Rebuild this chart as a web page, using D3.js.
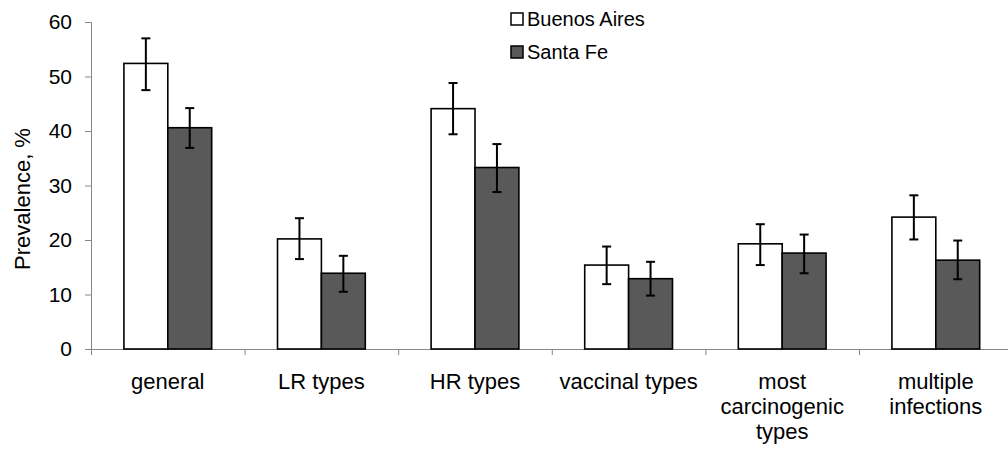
<!DOCTYPE html>
<html>
<head>
<meta charset="utf-8">
<script src="https://cdn.jsdelivr.net/npm/d3@7"></script>
<style>
  body { margin: 0; background: #fff; }
  svg { display: block; font-family: "Liberation Sans", Arial, sans-serif; }
</style>
</head>
<body>
<div id="chart"></div>
<script>
// categories and series
var categories = ["general", "LR types", "HR types", "vaccinal types", "most carcinogenic types", "multiple infections"];
var series = ["Buenos Aires", "Santa Fe"];
var seriesColors = ["#ffffff", "#595959"];

// prevalence values (%)
var buenosAires = [52.4, 20.2, 44.1, 15.4, 19.3, 24.2];
var santaFe = [40.6, 13.9, 33.3, 12.9, 17.6, 16.3];

// error bar limits
var buenosAiresLow = [47.5, 16.5, 39.4, 11.9, 15.4, 20.1];
var buenosAiresHigh = [57.0, 24.0, 48.8, 18.8, 22.9, 28.2];
var santaFeLow = [36.9, 10.5, 28.8, 9.8, 13.9, 12.8];
var santaFeHigh = [44.2, 17.1, 37.6, 16.0, 21.0, 19.9];

var yTicks = [0, 10, 20, 30, 40, 50, 60];

var width = 1008, height = 451;
var axisColor = "#878787";

var svg = d3.select("#chart").append("svg")
    .attr("width", width)
    .attr("height", height);

// scales
var x0 = 91, step = 153.6;
var x = d3.scaleBand()
    .domain(categories)
    .range([x0, x0 + step * categories.length]);
var xSub = d3.scaleBand()
    .domain(series)
    .range([0, x.bandwidth()])
    .paddingOuter(0.75);
var y = d3.scaleLinear()
    .domain([0, 60])
    .range([349, 22]);

// build a table from the arrays
var table = categories.map(function(c, i) {
  return {
    cat: c,
    vals: [
      {s: series[0], v: buenosAires[i], lo: buenosAiresLow[i], hi: buenosAiresHigh[i]},
      {s: series[1], v: santaFe[i], lo: santaFeLow[i], hi: santaFeHigh[i]}
    ]
  };
});

// y axis
var yAxis = svg.append("g")
    .attr("transform", "translate(" + x0 + ",0)")
    .call(d3.axisLeft(y).tickValues(yTicks).tickSize(6).tickPadding(13).tickFormat(d3.format("d")));
yAxis.selectAll("path, line").attr("stroke", axisColor);
yAxis.selectAll("text")
    .attr("fill", "#000")
    .style("font-size", "21px");

// x axis: boundary ticks
var xEdge = d3.scaleLinear().domain([0, categories.length]).range([x0, x0 + step * categories.length]);
var xAxis = svg.append("g")
    .attr("transform", "translate(0," + y(0) + ")")
    .call(d3.axisBottom(xEdge).tickValues(d3.range(0, categories.length + 1)).tickSize(6).tickFormat(""));
xAxis.selectAll("path, line").attr("stroke", axisColor);

// x category labels
var xLab = svg.append("g")
    .attr("transform", "translate(0," + y(0) + ")")
    .call(d3.axisBottom(x).tickSize(0).tickPadding(24));
xLab.select(".domain").remove();
xLab.selectAll("text")
    .attr("fill", "#000")
    .style("font-size", "22px")
    .call(wrap, 150);

// break long labels into lines like the original
function wrap(texts, w) {
  texts.each(function() {
    var text = d3.select(this),
        words = text.text().split(/\s+/),
        line = [],
        lineNo = 0,
        lh = 25,
        yy = +text.attr("y"),
        dy = parseFloat(text.attr("dy")) || 0;
    text.text(null);
    var tspan = text.append("tspan").attr("x", 0).attr("y", yy).attr("dy", dy + "em");
    words.forEach(function(word) {
      line.push(word);
      tspan.text(line.join(" "));
      if (tspan.node().getComputedTextLength() > w && line.length > 1) {
        line.pop();
        tspan.text(line.join(" "));
        line = [word];
        lineNo++;
        tspan = text.append("tspan")
            .attr("x", 0)
            .attr("y", yy + lineNo * lh)
            .attr("dy", dy + "em")
            .text(word);
      }
    });
  });
}

// y label
svg.append("text")
    .attr("transform", "translate(30," + 199 + ") rotate(-90)")
    .attr("text-anchor", "middle")
    .style("font-size", "22px")
    .text("Prevalence, %");

// bars
var groups = svg.selectAll(".grp")
    .data(table)
    .enter().append("g")
    .attr("class", "grp")
    .attr("transform", function(d) { return "translate(" + x(d.cat) + ",0)"; });

groups.selectAll("rect")
    .data(function(d) { return d.vals; })
    .enter().append("rect")
    .attr("x", function(d) { return xSub(d.s); })
    .attr("width", xSub.bandwidth())
    .attr("y", function(d) { return y(d.v); })
    .attr("height", function(d) { return y(0) - y(d.v); })
    .attr("fill", function(d, i) { return seriesColors[i]; })
    .attr("stroke", "#000")
    .attr("stroke-width", 1.6);

// error bars
var errs = groups.selectAll(".err")
    .data(function(d) { return d.vals; })
    .enter().append("g")
    .attr("class", "err")
    .attr("stroke", "#000")
    .attr("stroke-width", 2);
errs.append("line")
    .attr("x1", function(d) { return xSub(d.s) + xSub.bandwidth() / 2; })
    .attr("x2", function(d) { return xSub(d.s) + xSub.bandwidth() / 2; })
    .attr("y1", function(d) { return y(d.lo); })
    .attr("y2", function(d) { return y(d.hi); });
["lo", "hi"].forEach(function(k) {
  errs.append("line")
      .attr("x1", function(d) { return xSub(d.s) + xSub.bandwidth() / 2 - 4.5; })
      .attr("x2", function(d) { return xSub(d.s) + xSub.bandwidth() / 2 + 4.5; })
      .attr("y1", function(d) { return y(d[k]); })
      .attr("y2", function(d) { return y(d[k]); });
});

// legend
var legend = svg.selectAll(".leg")
    .data(series)
    .enter().append("g")
    .attr("class", "leg")
    .attr("transform", function(d, i) { return "translate(511," + (13 + i * 33) + ")"; });
legend.append("rect")
    .attr("width", 12)
    .attr("height", 12)
    .attr("fill", function(d, i) { return seriesColors[i]; })
    .attr("stroke", "#000")
    .attr("stroke-width", 1.5);
legend.append("text")
    .attr("x", 16)
    .attr("y", 13)
    .style("font-size", "20px")
    .text(function(d) { return d; });
</script>
</body>
</html>
